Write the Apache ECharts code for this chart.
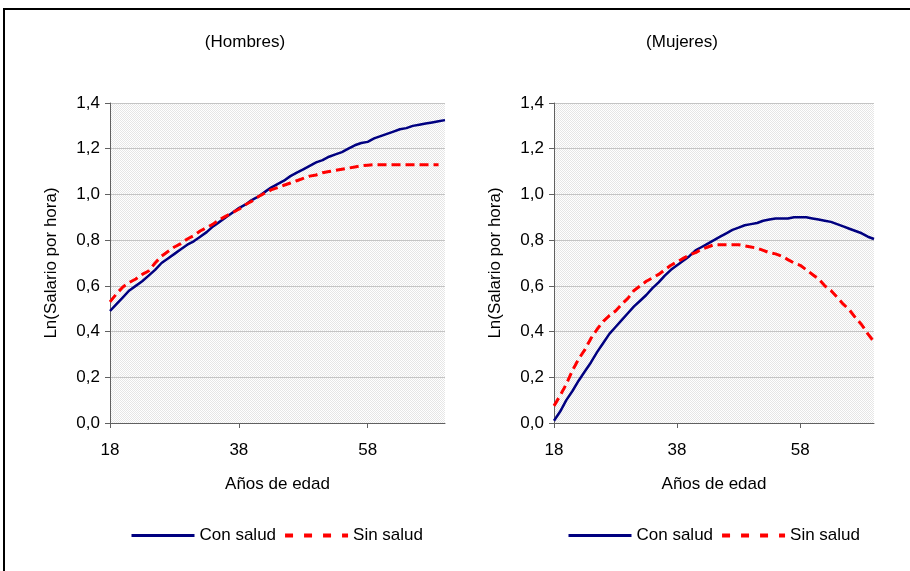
<!DOCTYPE html>
<html>
<head>
<meta charset="utf-8">
<script src="https://cdn.jsdelivr.net/npm/echarts@6/dist/echarts.min.js"></script>
<style>
html,body{margin:0;padding:0;background:#fff;}
#main{width:910px;height:571px;}
</style>
</head>
<body>
<div id="main"></div>
<script>
var ages = [18,19,20,21,22,23,24,25,26,27,28,29,30,31,32,33,34,35,36,37,38,39,40,41,42,43,44,45,46,47,48,49,50,51,52,53,54,55,56,57,58,59,60,61,62,63,64,65,66,67,68,69,70];
var xTickLabels = ['18','38','58'];
var yTicks = [0,0.2,0.4,0.6,0.8,1.0,1.2,1.4];

var hombresCon = [0.49,0.52,0.55,0.58,0.60,0.62,0.645,0.67,0.70,0.72,0.74,0.76,0.78,0.795,0.815,0.835,0.86,0.88,0.90,0.92,0.94,0.955,0.975,0.99,1.01,1.03,1.045,1.06,1.08,1.095,1.11,1.125,1.14,1.15,1.165,1.175,1.185,1.20,1.215,1.225,1.23,1.245,1.255,1.265,1.275,1.285,1.29,1.30,1.305,1.31,1.315,1.32,1.325];
var hombresSin = [0.53,0.565,0.595,0.615,0.63,0.65,0.665,0.70,0.73,0.75,0.77,0.785,0.805,0.82,0.84,0.855,0.87,0.89,0.905,0.92,0.935,0.955,0.97,0.99,1.005,1.02,1.03,1.04,1.05,1.06,1.07,1.08,1.085,1.095,1.10,1.105,1.11,1.115,1.12,1.125,1.128,1.13,1.13,1.13,1.13,1.13,1.13,1.13,1.13,1.13,1.13,1.13,null];
var mujeresCon = [0.01,0.05,0.10,0.14,0.185,0.225,0.265,0.31,0.35,0.39,0.42,0.45,0.48,0.51,0.535,0.56,0.59,0.615,0.645,0.67,0.69,0.71,0.73,0.755,0.77,0.785,0.80,0.815,0.83,0.845,0.855,0.865,0.87,0.875,0.885,0.89,0.895,0.895,0.895,0.90,0.90,0.90,0.895,0.89,0.885,0.88,0.87,0.86,0.85,0.84,0.83,0.815,0.805];
var mujeresSin = [0.075,0.12,0.17,0.23,0.28,0.32,0.37,0.41,0.445,0.47,0.49,0.52,0.545,0.58,0.60,0.62,0.635,0.65,0.67,0.69,0.705,0.72,0.735,0.745,0.76,0.77,0.78,0.78,0.78,0.78,0.78,0.775,0.77,0.765,0.755,0.745,0.74,0.73,0.715,0.70,0.69,0.67,0.65,0.63,0.60,0.58,0.55,0.52,0.495,0.46,0.43,0.39,0.355];

var FONT = 'Liberation Sans, Arial, sans-serif';
var FS = 17;

// dotted background pattern (Excel-like)
var pc = document.createElement('canvas');
pc.width = 2; pc.height = 2;
var pctx = pc.getContext('2d');
pctx.fillStyle = '#ffffff'; pctx.fillRect(0,0,2,2);
pctx.fillStyle = '#e6e6e6'; pctx.fillRect(0,0,1,1); pctx.fillRect(1,1,1,1);
var pattern = {image: pc, repeat: 'repeat'};

var chart = echarts.init(document.getElementById('main'), null, {renderer: 'canvas'});

function isTick(i) { return xTickLabels.indexOf(String(ages[i])) >= 0; }

function xAxisCfg(gi) {
  return {
    type: 'category', gridIndex: gi, data: ages, boundaryGap: false,
    name: 'Años de edad', nameLocation: 'middle', nameGap: 53,
    nameTextStyle: {fontFamily: FONT, fontSize: FS, color: '#000'},
    axisLine: {lineStyle: {color: '#606060', width: 1}},
    axisTick: {show: true, length: 5, interval: isTick, lineStyle: {color: '#606060'}},
    axisLabel: {interval: isTick, fontFamily: FONT, fontSize: FS, color: '#000', margin: 19},
    splitLine: {show: false}
  };
}
function yAxisCfg(gi) {
  return {
    type: 'value', gridIndex: gi, min: 0, max: 1.4, interval: 0.2,
    name: 'Ln(Salario por hora)', nameLocation: 'middle', nameGap: 50,
    nameTextStyle: {fontFamily: FONT, fontSize: FS, color: '#000'},
    axisLine: {show: true, lineStyle: {color: '#606060', width: 1}},
    axisTick: {show: true, length: 5, lineStyle: {color: '#606060'}},
    axisLabel: {fontFamily: FONT, fontSize: FS, color: '#000', margin: 10,
      formatter: function(v){ return v.toFixed(1).replace('.', ','); }},
    splitLine: {show: true, lineStyle: {color: '#c4c4c4', width: 1}}
  };
}
var blue = '#000080', red = '#ff0000';
function conSeries(gi, data) {
  return {name: 'Con salud', type: 'line', xAxisIndex: gi, yAxisIndex: gi, data: data,
    symbol: 'none', smooth: false, lineStyle: {color: blue, width: 2.5}, itemStyle: {color: blue}, z: 3};
}
function sinSeries(gi, data) {
  return {name: 'Sin salud', type: 'line', xAxisIndex: gi, yAxisIndex: gi, data: data,
    symbol: 'none', smooth: false, lineStyle: {color: red, width: 3, type: [9, 5]}, itemStyle: {color: red}, z: 4};
}
var hidden = {color: 'rgba(0,0,0,0)', borderWidth: 0, borderColor: 'rgba(0,0,0,0)', opacity: 0};
function legendCfg(left) {
  return {
    left: left, top: 527, padding: 0, orient: 'horizontal', itemWidth: 63, itemHeight: 12, itemGap: 7,
    textStyle: {fontFamily: FONT, fontSize: FS, color: '#000'},
    data: [
      {name: 'Con salud', itemStyle: hidden, lineStyle: {color: blue, width: 3, type: 'solid'}},
      {name: 'Sin salud', itemStyle: hidden, lineStyle: {color: red, width: 4, type: [8, 11]}}
    ],
    selectedMode: false
  };
}

var option = {
  backgroundColor: '#ffffff',
  animation: false,
  graphic: [
    {type: 'rect', shape: {x: 4, y: 9, width: 940, height: 600}, style: {fill: 'none', stroke: '#000', lineWidth: 2}, silent: true},
    {type: 'text', x: 245, y: 42, style: {text: '(Hombres)', fontFamily: FONT, fontSize: FS, fill: '#000', textAlign: 'center', textVerticalAlign: 'middle'}},
    {type: 'text', x: 682, y: 42, style: {text: '(Mujeres)', fontFamily: FONT, fontSize: FS, fill: '#000', textAlign: 'center', textVerticalAlign: 'middle'}}
  ],
  grid: [
    {left: 110, top: 103, width: 335, height: 320, show: true, backgroundColor: pattern, borderWidth: 0},
    {left: 554, top: 103, width: 320, height: 320, show: true, backgroundColor: pattern, borderWidth: 0}
  ],
  xAxis: [xAxisCfg(0), xAxisCfg(1)],
  yAxis: [yAxisCfg(0), yAxisCfg(1)],
  legend: [legendCfg(130), legendCfg(567)],
  series: [conSeries(0, hombresCon), sinSeries(0, hombresSin), conSeries(1, mujeresCon), sinSeries(1, mujeresSin)]
};
chart.setOption(option);
</script>
</body>
</html>
